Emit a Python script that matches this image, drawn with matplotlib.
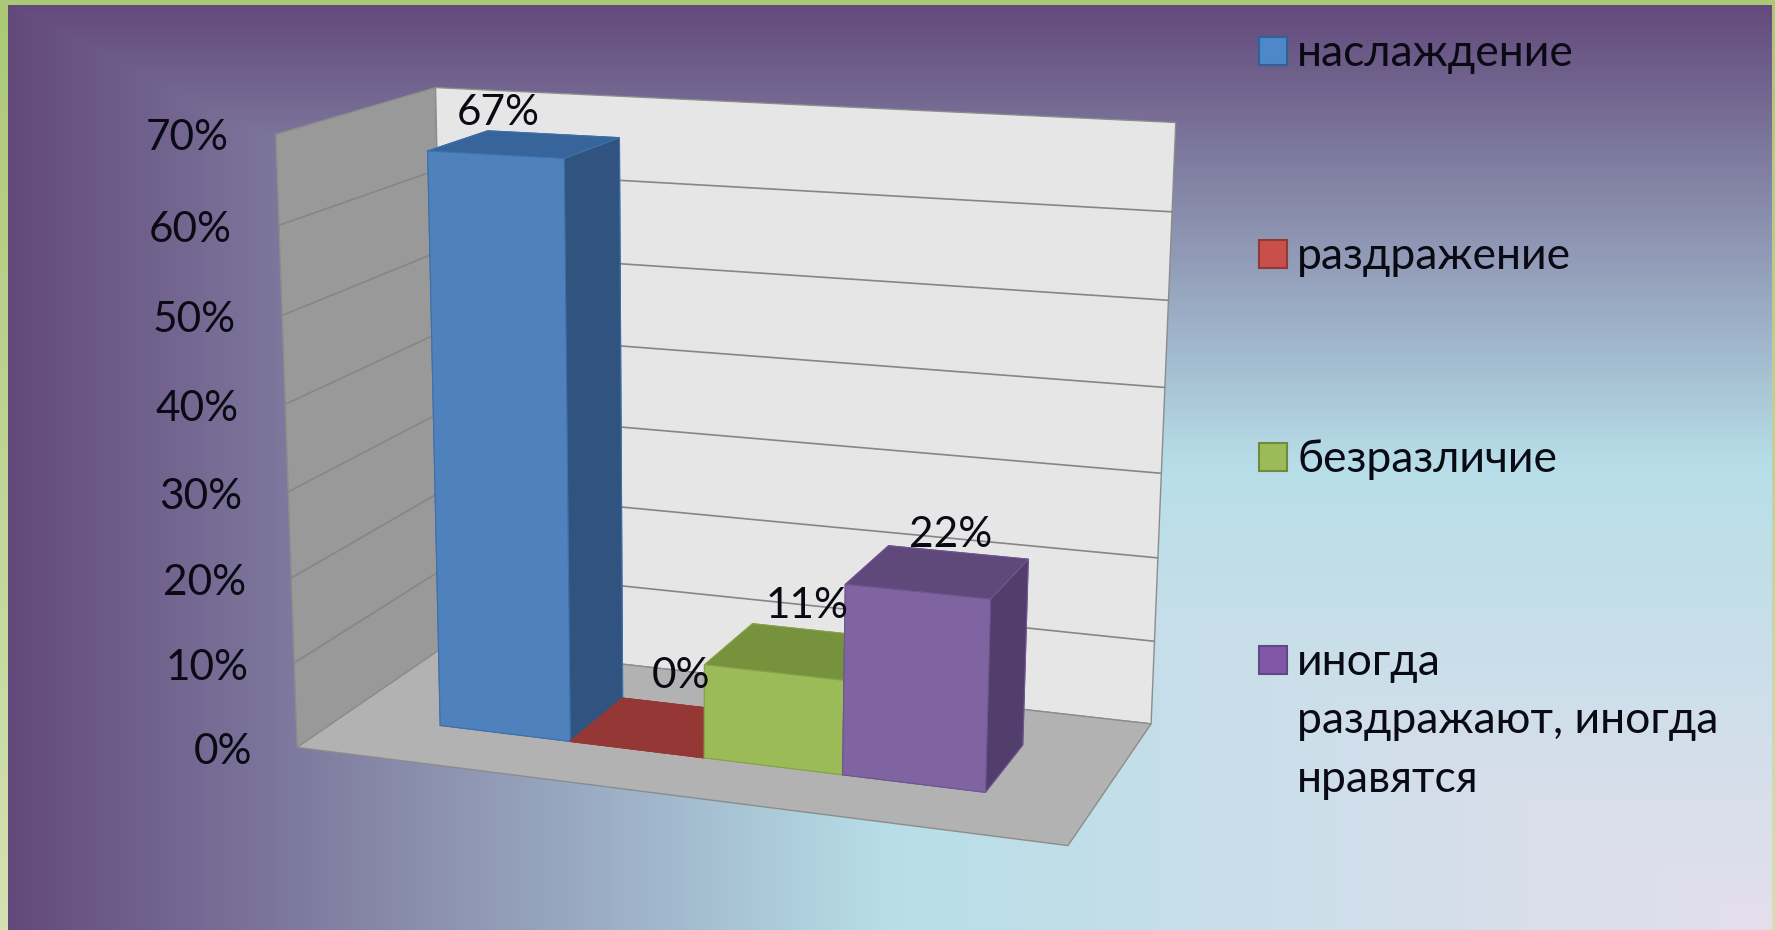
import numpy as np
import matplotlib
matplotlib.use("Agg")
import matplotlib.pyplot as plt
from matplotlib.colors import to_rgb
from matplotlib.patches import Rectangle
from mpl_toolkits.mplot3d import proj3d
from mpl_toolkits.mplot3d.art3d import Poly3DCollection

plt.rcParams['font.family'] = ['Lato', 'Open Sans', 'DejaVu Sans']

W, H = 1775, 930

# chart data
categories = ['наслаждение', 'раздражение', 'безразличие', 'иногда\nраздражают, иногда\nнравятся']
values = [0.67, 0.0, 0.11, 0.22]
value_labels = ['67%', '0%', '11%', '22%']
ticks = [0.0, 0.1, 0.2, 0.3, 0.4, 0.5, 0.6, 0.7]
tick_labels = ['0%', '10%', '20%', '30%', '40%', '50%', '60%', '70%']

# face colours of each bar
front_colors = ['#4F81BD', '#C0504D', '#9BBB59', '#8064A2']
top_colors = ['#37659B', '#953735', '#76923C', '#5F497A']
side_colors = ['#30547F', '#7B2E2C', '#617A30', '#523E6D']
edge_colors = ['#3F70AA', '#953735', '#86A34A', '#6F5690']
legend_colors = ['#4F88C8', '#C9504A', '#9BBB59', '#8257A8']
legend_edges = ['#2F6296', '#8E3A38', '#71893F', '#5C4A80']

# where the corners of the chart box land in the picture (x, depth, value) -> pixel
box_corners = [(0, 0, 0), (1, 0, 0), (1, 1, 0), (0, 1, 0), (0, 0, 0.7), (0, 1, 0.7), (1, 1, 0.7)]
box_pixels = [(303, 743), (1066, 850), (1153, 718), (440, 648), (270, 133), (441, 87), (1174, 123)]

bar_start = 0.137
bar_width = 0.182
bar_front = 0.3
bar_depth = 0.4
label_pixels = [(498, 113), (681, 676), (807, 606), (951, 535)]


def camera_matrix(corners, pixels):
    rows = []
    for (x, y, z), (u, v) in zip(corners, pixels):
        rows.append([x, y, z, 1, 0, 0, 0, 0, -u * x, -u * y, -u * z, -u])
        rows.append([0, 0, 0, 0, x, y, z, 1, -v * x, -v * y, -v * z, -v])
    p = np.linalg.svd(np.array(rows, dtype=float))[2][-1].reshape(3, 4)
    p = p / (p[2] @ [0.5, 0.5, 0.35, 1])
    # third row is only a depth for sorting the faces of a bar
    return np.array([p[0], p[1], [-0.3, 1, -0.57, 2], p[2]])


def background():
    xx, yy = np.meshgrid(np.linspace(0, 1, W), np.linspace(0, 1, H))
    t = np.minimum(xx, yy)
    stops = [to_rgb('#62487A'), to_rgb('#B7DEE8'), to_rgb('#E5DFEC')]
    img = np.dstack([np.interp(t, [0, 0.5, 1], [s[i] for s in stops]) for i in range(3)])
    green_top = np.array(to_rgb('#ABC876'))
    green_bottom = np.array(to_rgb('#D4E1B2'))
    side = green_top + np.linspace(0, 1, H)[:, None] * (green_bottom - green_top)
    img[:, :8] = side[:, None, :]
    img[:, -3:] = side[:, None, :]
    img[:6] = green_top
    return img


fig = plt.figure(figsize=(W / 100, H / 100), dpi=100)

bg = fig.add_axes([0, 0, 1, 1])
bg.imshow(background(), extent=(0, W, H, 0), aspect='auto', interpolation='bilinear')
bg.set_xlim(0, W)
bg.set_ylim(H, 0)
bg.axis('off')

ax = fig.add_axes([0, 0, 1, 1], projection='3d', computed_zorder=False)
ax.patch.set_visible(False)
ax.set_axis_off()
# ortho stops mplot3d masking line points outside -1..1, our matrix gives pixels
ax.set_proj_type('ortho')
M = camera_matrix(box_corners, box_pixels)
ax.get_proj = lambda: M
ax.apply_aspect = lambda position=None: None
ax.viewLim.intervalx = (0, W)
ax.viewLim.intervaly = (H, 0)

top = ticks[-1]
left_wall = [(0, 0, 0), (0, 1, 0), (0, 1, top), (0, 0, top)]
back_wall = [(0, 1, 0), (1, 1, 0), (1, 1, top), (0, 1, top)]
floor = [(0, 0, 0), (1, 0, 0), (1, 1, 0), (0, 1, 0)]
for verts, color in [(left_wall, '#999999'), (back_wall, '#E6E6E6'), (floor, '#B2B2B2')]:
    poly = Poly3DCollection([verts], facecolor=color, edgecolor='#8C8C8C', linewidth=1)
    poly.set_zorder(1)
    ax.add_collection3d(poly)

for t in ticks[1:-1]:
    ax.plot([0, 0, 1], [0, 1, 1], [t, t, t], color='#868686', lw=1.2, zorder=2)

# tick labels go just left of the front edge of the left wall
for t, lab in zip(ticks, tick_labels):
    px, py, _ = proj3d.proj_transform(-0.05, -0.055, t - 0.004, M)
    fig.text(px / W, 1 - py / H, lab, ha='right', va='center', fontsize=30.5, color='#0A0A14', zorder=20)

for i, v in enumerate(values):
    x0 = bar_start + i * bar_width
    side = side_colors[i]
    faces = [side, top_colors[i], front_colors[i], side, side, side]
    bar = ax.bar3d(x0, bar_front, 0, bar_width, bar_depth, v, color=faces, shade=False,
                   edgecolor=edge_colors[i], linewidth=0.8)
    bar.set_zorder(3 + i)

# data labels sit on top of everything
for (px, py), lab in zip(label_pixels, value_labels):
    fig.text(px / W, 1 - py / H, lab, ha='center', va='center', fontsize=30.5, color='#0A0A14', zorder=20)

# legend
legend_x = 1259
legend_y = 51
legend_step = 203
box = 28
for i, lab in enumerate(categories):
    y = legend_y + i * legend_step
    bg.add_patch(Rectangle((legend_x, y - box / 2), box, box, facecolor=legend_colors[i],
                           edgecolor=legend_edges[i], linewidth=1.5))
    fig.text((legend_x + 38) / W, 1 - (y - 18) / H, lab, ha='left', va='top', fontsize=32,
             linespacing=1.53, color='#0A0A14', zorder=20)

fig.savefig('out.png', dpi=100)
